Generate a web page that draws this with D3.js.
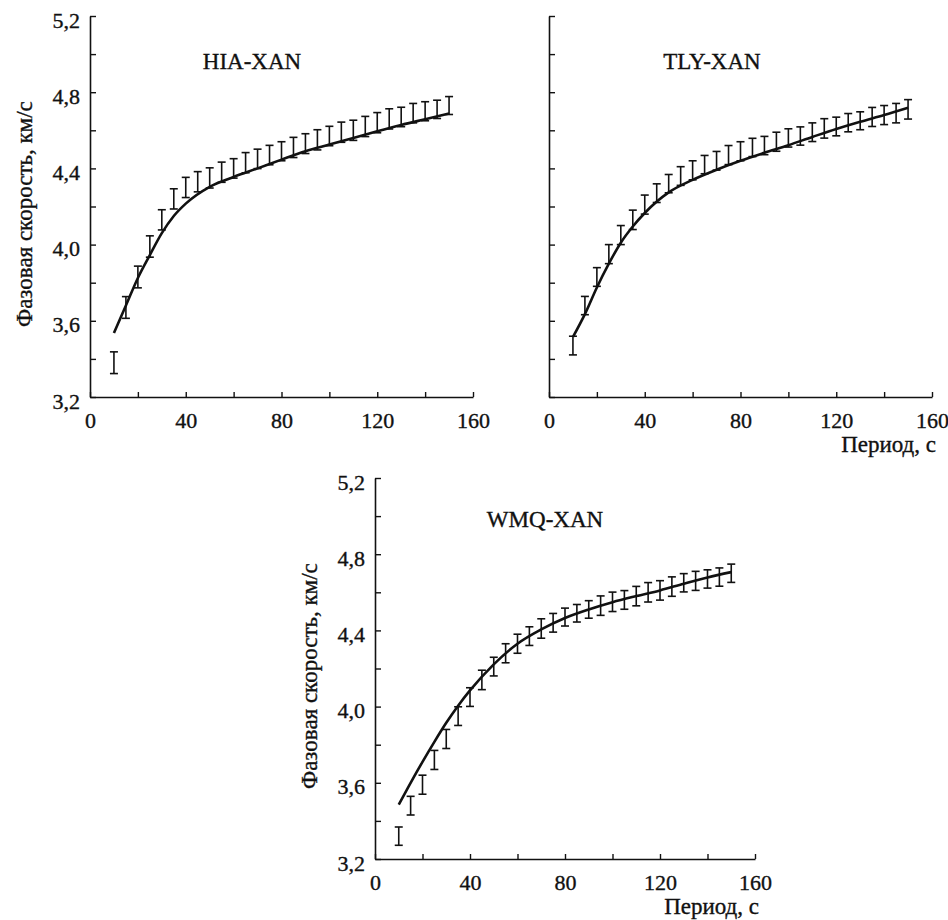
<!DOCTYPE html>
<html>
<head>
<meta charset="utf-8">
<script src="https://cdn.jsdelivr.net/npm/d3@7"></script>
<style>
  body { margin: 0; background: #fff; }
  svg { display: block; }
  text { font-family: "Liberation Serif", "Times New Roman", serif; fill: #111;
         stroke: #111; stroke-width: 0.35px; }
</style>
</head>
<body>
<svg id="chart" width="948" height="920"></svg>
<script>
// Periods of the measured points, s
const periods = [10, 15, 20, 25, 30, 35, 40, 45, 50, 55, 60, 65, 70, 75, 80, 85, 90, 95, 100, 105, 110, 115, 120, 125, 130, 135, 140, 145, 150]

// Measured phase velocities (km/s) and their half error bars
const hiaVel = [3.38, 3.67, 3.83, 3.99, 4.13, 4.24, 4.30, 4.33, 4.35, 4.38, 4.40, 4.43, 4.45, 4.47, 4.49, 4.51, 4.53, 4.55, 4.57, 4.59, 4.60, 4.62, 4.64, 4.66, 4.67, 4.69, 4.70, 4.71, 4.73]
const hiaErr = [0.057, 0.057, 0.057, 0.056, 0.053, 0.053, 0.053, 0.053, 0.053, 0.053, 0.051, 0.053, 0.051, 0.051, 0.05, 0.053, 0.052, 0.053, 0.051, 0.053, 0.053, 0.053, 0.053, 0.053, 0.051, 0.051, 0.05, 0.048, 0.047]

const tlyVel = [3.47, 3.68, 3.83, 3.95, 4.05, 4.13, 4.21, 4.27, 4.32, 4.36, 4.39, 4.42, 4.44, 4.47, 4.49, 4.51, 4.52, 4.54, 4.56, 4.57, 4.59, 4.61, 4.62, 4.64, 4.65, 4.67, 4.68, 4.69, 4.71]
const tlyErr = [0.049, 0.048, 0.049, 0.05, 0.05, 0.051, 0.05, 0.049, 0.048, 0.049, 0.05, 0.048, 0.049, 0.05, 0.05, 0.048, 0.048, 0.05, 0.048, 0.048, 0.049, 0.051, 0.049, 0.048, 0.047, 0.05, 0.05, 0.051, 0.051]

const wmqVel = [3.32, 3.48, 3.59, 3.72, 3.83, 3.95, 4.05, 4.14, 4.21, 4.28, 4.33, 4.37, 4.41, 4.44, 4.47, 4.49, 4.51, 4.53, 4.55, 4.56, 4.58, 4.60, 4.61, 4.63, 4.65, 4.66, 4.67, 4.68, 4.70]
const wmqErr = [0.048, 0.049, 0.05, 0.05, 0.05, 0.049, 0.049, 0.051, 0.049, 0.05, 0.05, 0.049, 0.051, 0.049, 0.047, 0.046, 0.046, 0.051, 0.051, 0.049, 0.051, 0.051, 0.051, 0.051, 0.048, 0.05, 0.048, 0.048, 0.048]

// Model dispersion curves
const curvePeriods = [10, 15, 20, 25, 30, 35, 40, 50, 60, 70, 80, 90, 100, 110, 120, 130, 140, 150]
const hiaCurve = [3.536, 3.68, 3.825, 3.945, 4.06, 4.15, 4.215, 4.303, 4.355, 4.40, 4.446, 4.49, 4.525, 4.56, 4.595, 4.628, 4.658, 4.688]
const tlyCurve = [3.515, 3.635, 3.775, 3.90, 4.01, 4.095, 4.166, 4.274, 4.34, 4.393, 4.44, 4.482, 4.522, 4.565, 4.607, 4.645, 4.68, 4.718]
const wmqCurve = [3.485, 3.60, 3.71, 3.815, 3.915, 4.005, 4.085, 4.222, 4.33, 4.405, 4.465, 4.51, 4.548, 4.58, 4.61, 4.645, 4.678, 4.706]

// Axis ticks
const xTicks = [0, 20, 40, 60, 80, 100, 120, 140, 160]
const xLabelled = [0, 40, 80, 120, 160]
const yTicks = [3.2, 3.4, 3.6, 3.8, 4.0, 4.2, 4.4, 4.6, 4.8, 5.0, 5.2]
const yLabelled = [3.2, 3.6, 4.0, 4.4, 4.8, 5.2]

const yTitle = 'Фазовая скорость, км/с'
const xTitle = 'Период, с'

const panels = [
  { name: 'HIA-XAN', vel: hiaVel, err: hiaErr, curve: hiaCurve,
    left: 90, top: 16, width: 383, height: 381,
    titleX: 252, titleY: 69, yLabels: true, xTitleOn: false },
  { name: 'TLY-XAN', vel: tlyVel, err: tlyErr, curve: tlyCurve,
    left: 549, top: 16, width: 383, height: 381,
    titleX: 712, titleY: 69, yLabels: false, xTitleOn: true },
  { name: 'WMQ-XAN', vel: wmqVel, err: wmqErr, curve: wmqCurve,
    left: 375, top: 478, width: 380, height: 381,
    titleX: 545, titleY: 527, yLabels: true, xTitleOn: true }
]

const svg = d3.select('#chart')
svg.append('rect').attr('width', 948).attr('height', 920).attr('fill', '#fff')

const fmt = (v) => d3.format('.1f')(v).replace('.', ',')

panels.forEach((p) => {
  const xScale = d3.scaleLinear().domain([0, 160]).range([p.left, p.left + p.width])
  const yScale = d3.scaleLinear().domain([3.2, 5.2]).range([p.top + p.height, p.top])
  const g = svg.append('g')

  // x axis with inward ticks
  const xAxis = g.append('g')
    .attr('transform', 'translate(0,' + (p.top + p.height) + ')')
    .call(d3.axisBottom(xScale)
      .tickValues(xTicks)
      .tickSizeInner(-5)
      .tickSizeOuter(0)
      .tickPadding(15)
      .tickFormat((d) => xLabelled.includes(d) ? d : ''))
  xAxis.selectAll('text').attr('font-size', 22).attr('fill', '#111')

  // y axis with inward ticks
  const yAxis = g.append('g')
    .attr('transform', 'translate(' + p.left + ',0)')
    .call(d3.axisLeft(yScale)
      .tickValues(yTicks)
      .tickSizeInner(-6)
      .tickSizeOuter(0)
      .tickPadding(10)
      .tickFormat((d) => p.yLabels && yLabelled.some((v) => Math.abs(v - d) < 1e-6) ? fmt(d) : ''))
  yAxis.selectAll('text').attr('font-size', 22).attr('dy', '0.5em').attr('fill', '#111')

  ;[xAxis, yAxis].forEach((a) => {
    a.select('.domain').attr('stroke', '#111').attr('stroke-width', 1.6)
    a.selectAll('.tick line').attr('stroke', '#111').attr('stroke-width', 1.4)
  })

  // panel title
  g.append('text')
    .attr('x', p.titleX).attr('y', p.titleY)
    .attr('text-anchor', 'middle')
    .attr('font-size', 23)
    .text(p.name)

  // y axis title
  if (p.yLabels) {
    g.append('text')
      .attr('transform', 'translate(' + (p.left - 58) + ',' + (p.top + p.height * 0.52) + ') rotate(-90)')
      .attr('text-anchor', 'middle')
      .attr('font-size', 23)
      .text(yTitle)
  }

  // x axis title
  if (p.xTitleOn) {
    g.append('text')
      .attr('x', p.left + p.width + 4).attr('y', p.top + p.height + 55)
      .attr('text-anchor', 'end')
      .attr('font-size', 23)
      .text(xTitle)
  }

  // error bars
  const bars = g.append('g')
    .attr('stroke', '#111').attr('stroke-width', 1.6).attr('fill', 'none')
    .selectAll('g')
    .data(periods.map((t, i) => ({ t: t, v: p.vel[i], e: p.err[i] })))
    .enter()
    .append('g')
  bars.append('line')
    .attr('x1', (d) => xScale(d.t)).attr('x2', (d) => xScale(d.t))
    .attr('y1', (d) => yScale(d.v - d.e)).attr('y2', (d) => yScale(d.v + d.e))
  bars.append('line')
    .attr('x1', (d) => xScale(d.t) - 4).attr('x2', (d) => xScale(d.t) + 4)
    .attr('y1', (d) => yScale(d.v - d.e)).attr('y2', (d) => yScale(d.v - d.e))
  bars.append('line')
    .attr('x1', (d) => xScale(d.t) - 4).attr('x2', (d) => xScale(d.t) + 4)
    .attr('y1', (d) => yScale(d.v + d.e)).attr('y2', (d) => yScale(d.v + d.e))

  // model curve
  const line = d3.line()
    .x((d) => xScale(d[0]))
    .y((d) => yScale(d[1]))
    .curve(d3.curveMonotoneX)
  g.append('path')
    .datum(curvePeriods.map((t, i) => [t, p.curve[i]]))
    .attr('d', line)
    .attr('fill', 'none')
    .attr('stroke', '#111')
    .attr('stroke-width', 2.6)
})
</script>
</body>
</html>
